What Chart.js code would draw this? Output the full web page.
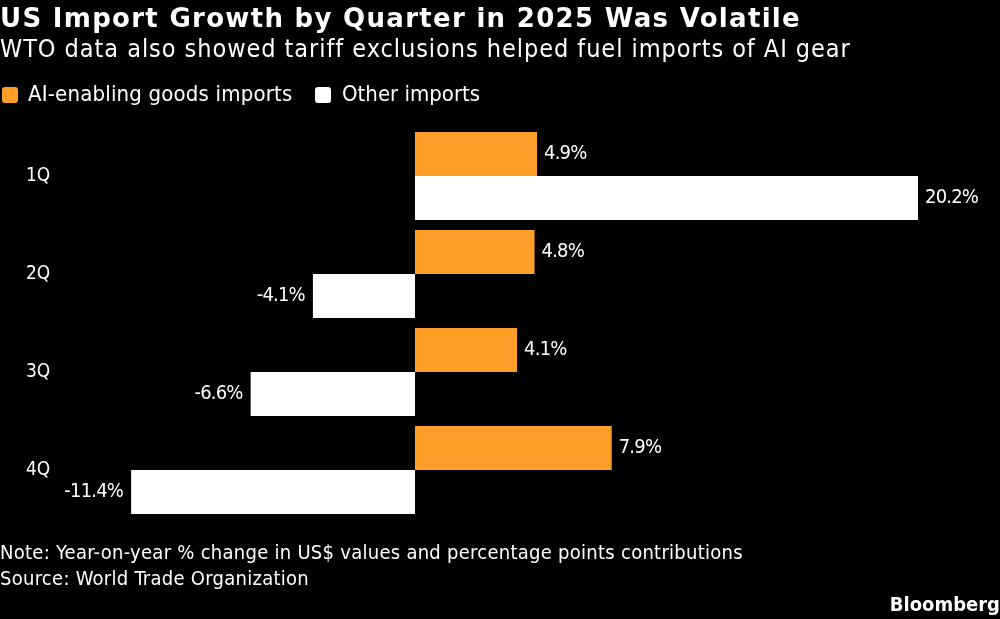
<!DOCTYPE html>
<html>
<head>
<meta charset="utf-8">
<script src="https://cdn.jsdelivr.net/npm/chart.js@4"></script>
<style>
  html, body { margin: 0; padding: 0; background: #000; }
  #wrap { position: relative; width: 1000px; height: 619px; overflow: hidden; color: #fff;
          font-family: "DejaVu Sans Condensed", "DejaVu Sans", sans-serif; }
  #wrap div { position: absolute; white-space: nowrap; }
  canvas { position: absolute; left: 0; top: 0; }
  #title { left: 0; top: 3px; font-family: "DejaVu Sans", sans-serif; font-size: 26px; font-weight: bold; letter-spacing: 1.3px; }
  #subtitle { left: 0; top: 34px; font-size: 25px; letter-spacing: 0.95px; }
  .swatch { width: 16px; height: 16px; border-radius: 3px; top: 87px; }
  .legend-text { top: 81px; font-size: 22px; }
  .foot { left: 0; font-size: 20px; letter-spacing: 0.27px; }
  #logo { right: 0; top: 592px; font-size: 20px; font-weight: bold; }
</style>
</head>
<body>
<div id="wrap">
  <canvas id="chart" width="1000" height="619"></canvas>
  <div id="title">US Import Growth by Quarter in 2025 Was Volatile</div>
  <div id="subtitle">WTO data also showed tariff exclusions helped fuel imports of AI gear</div>
  <div class="swatch" style="left:2px;background:#ff9f2a"></div>
  <div class="legend-text" style="left:28px;letter-spacing:0.18px">AI-enabling goods imports</div>
  <div class="swatch" style="left:315px;background:#fff"></div>
  <div class="legend-text" style="left:342px;letter-spacing:0px">Other imports</div>
  <div class="foot" style="top:540px">Note: Year-on-year % change in US$ values and percentage points contributions</div>
  <div class="foot" style="top:566px">Source: World Trade Organization</div>
  <div id="logo">Bloomberg</div>
</div>
<script>
const quarters = ['1Q', '2Q', '3Q', '4Q']
const aiGoods = [4.9, 4.8, 4.1, 7.9]
const otherImports = [20.2, -4.1, -6.6, -11.4]

const labelFont = '20px "DejaVu Sans Condensed", "DejaVu Sans", sans-serif'

// Writes the value next to the end of each bar
const valueLabels = {
    id: 'valueLabels',
    afterDatasetsDraw(chart) {
        const ctx = chart.ctx
        ctx.save()
        ctx.font = labelFont
        ctx.letterSpacing = '-0.8px'
        ctx.fillStyle = '#fff'
        ctx.textBaseline = 'middle'
        chart.data.datasets.forEach((ds, i) => {
            chart.getDatasetMeta(i).data.forEach((bar, j) => {
                const value = ds.data[j]
                ctx.textAlign = value < 0 ? 'right' : 'left'
                ctx.fillText(value.toFixed(1) + '%', bar.x + (value < 0 ? -8 : 7), bar.y)
            })
        })
        ctx.restore()
    }
}

new Chart(document.getElementById('chart'), {
    type: 'bar',
    data: {
        labels: quarters,
        datasets: [
            { label: 'AI-enabling goods imports', data: aiGoods, backgroundColor: '#ff9f2a' },
            { label: 'Other imports', data: otherImports, backgroundColor: '#ffffff' }
        ]
    },
    options: {
        indexAxis: 'y',
        responsive: false,
        animation: false,
        layout: { padding: { top: 127, bottom: 100, left: 0, right: 0 } },
        datasets: { bar: { barPercentage: 1, categoryPercentage: 88 / 98 } },
        scales: {
            x: { display: false, min: -16.667, max: 23.494 },
            y: {
                grid: { display: false },
                border: { display: false },
                afterFit(scale) { scale.width = 0 },
                ticks: {
                    mirror: true,
                    padding: 26,
                    color: '#fff',
                    font: { family: '"DejaVu Sans Condensed", "DejaVu Sans", sans-serif', size: 19 }
                }
            }
        },
        plugins: { legend: { display: false }, tooltip: { enabled: false } }
    },
    plugins: [valueLabels]
})
</script>
</body>
</html>
